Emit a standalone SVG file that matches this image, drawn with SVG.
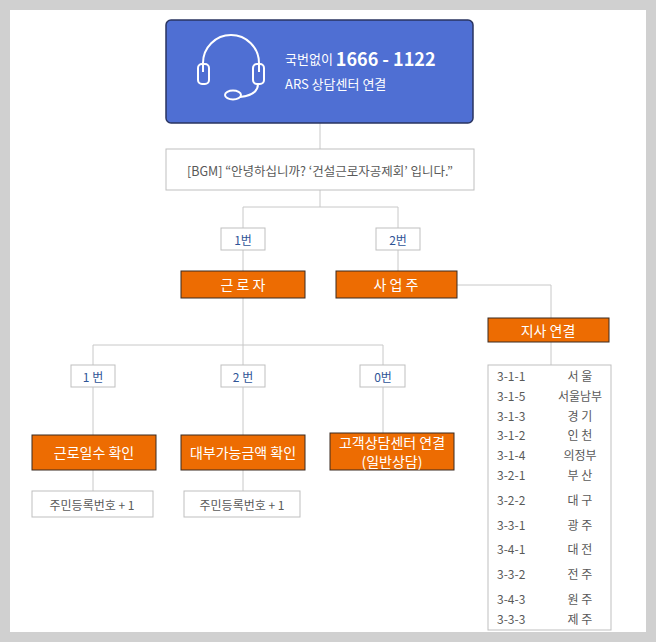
<svg xmlns="http://www.w3.org/2000/svg" width="656" height="642" viewBox="0 0 656 642">
<style>
text{font-family:"Noto Sans CJK KR","Noto Sans",sans-serif;}
.c{fill:none;stroke:#c8c8c8;stroke-width:1}
.w{fill:#fff;stroke:#bfbfbf;stroke-width:1}
.o{fill:#ed6c02;stroke:#3a2a20;stroke-width:1}
.ot{fill:#fff;font-size:14px;text-anchor:middle;dominant-baseline:central}
.bt{fill:#2f5597;font-size:12px;text-anchor:middle;dominant-baseline:central}
.gt{fill:#595959;font-size:12px;dominant-baseline:central}
</style>
<rect width="656" height="642" fill="#d0d0d0"/>
<rect x="10" y="10" width="636" height="622" fill="#fff"/>
<g id="connectors" class="c">
<path d="M320 123V149M320 190V207M243 207H398M243 207V228M398 207V228M243 250V271M398 250V271M457 285H551V318M551 342V365M243 298V345M93 345H383M93 345V365M243 345V365M383 345V365M93 387V435M243 387V435M383 387V433M93 470V491M243 470V491"/>
</g>
<g id="ars">
<rect x="166" y="20" width="307" height="103" rx="5" fill="#4f6fd3" stroke="#2a3560" stroke-width="1.5"/>
<g fill="none" stroke="#fff" stroke-width="2">
<path d="M203 72V63a28 28 0 0 1 56 0V72"/>
<rect x="198" y="64" width="11" height="20" rx="4"/>
<rect x="253" y="64" width="11" height="20" rx="4"/>
<path d="M258 84q0 11 -18 13"/>
<ellipse cx="233" cy="95" rx="8" ry="4.5"/>
</g>
<text x="285" y="58" fill="#fff" font-size="13" dominant-baseline="central">국번없이 <tspan font-size="18" font-weight="bold">1666 - 1122</tspan></text>
<text x="285" y="83" fill="#fff" font-size="13" dominant-baseline="central">ARS 상담센터 연결</text>
</g>
<g id="bgm"><rect class="w" x="166" y="149" width="308" height="41"/>
<text x="320" y="170" fill="#595959" font-size="12.5" text-anchor="middle" dominant-baseline="central">[BGM]  “안녕하십니까? ‘건설근로자공제회’ 입니다.”</text></g>
<g id="n1"><rect class="w" x="221" y="228" width="44" height="22" stroke="#8faadc"/><text class="bt" x="243" y="239">1번</text></g>
<g id="n2"><rect class="w" x="376" y="228" width="44" height="22" stroke="#8faadc"/><text class="bt" x="398" y="239">2번</text></g>
<g id="worker"><rect class="o" x="181" y="271" width="124" height="27"/><text class="ot" x="243" y="284">근 로 자</text></g>
<g id="employer"><rect class="o" x="336" y="271" width="121" height="27"/><text class="ot" x="396" y="284">사 업 주</text></g>
<g id="branch"><rect class="o" x="488" y="318" width="121" height="24"/><text class="ot" x="548" y="330">지사 연결</text></g>
<g id="m1"><rect class="w" x="71" y="365" width="44" height="22" stroke="#8faadc"/><text class="bt" x="93" y="376">1 번</text></g>
<g id="m2"><rect class="w" x="221" y="365" width="44" height="22" stroke="#8faadc"/><text class="bt" x="243" y="376">2 번</text></g>
<g id="m0"><rect class="w" x="360" y="365" width="45" height="22" stroke="#8faadc"/><text class="bt" x="383" y="376">0번</text></g>
<g id="days"><rect class="o" x="32" y="435" width="124" height="35"/><text class="ot" x="94" y="452">근로일수 확인</text></g>
<g id="loan"><rect class="o" x="181" y="435" width="124" height="35"/><text class="ot" x="243" y="452">대부가능금액 확인</text></g>
<g id="center"><rect class="o" x="330" y="433" width="124" height="37"/><text class="ot" x="392" y="442" font-size="12">고객상담센터 연결</text><text class="ot" x="392" y="461" font-size="12">(일반상담)</text></g>
<g id="id1"><rect class="w" x="32" y="491" width="121" height="26"/><text class="gt" x="92" y="504" text-anchor="middle">주민등록번호 + 1</text></g>
<g id="id2"><rect class="w" x="184" y="491" width="116" height="26"/><text class="gt" x="242" y="504" text-anchor="middle">주민등록번호 + 1</text></g>
<g id="list"><rect class="w" x="488" y="365" width="123" height="265"/>
<g class="gt">
<text x="497" y="375">3-1-1</text><text x="580" y="375" text-anchor="middle">서 울</text>
<text x="497" y="395">3-1-5</text><text x="580" y="395" text-anchor="middle">서울남부</text>
<text x="497" y="415">3-1-3</text><text x="580" y="415" text-anchor="middle">경 기</text>
<text x="497" y="434">3-1-2</text><text x="580" y="434" text-anchor="middle">인 천</text>
<text x="497" y="454">3-1-4</text><text x="580" y="454" text-anchor="middle">의정부</text>
<text x="497" y="474">3-2-1</text><text x="580" y="474" text-anchor="middle">부 산</text>
<text x="497" y="499">3-2-2</text><text x="580" y="499" text-anchor="middle">대 구</text>
<text x="497" y="524">3-3-1</text><text x="580" y="524" text-anchor="middle">광 주</text>
<text x="497" y="548">3-4-1</text><text x="580" y="548" text-anchor="middle">대 전</text>
<text x="497" y="573">3-3-2</text><text x="580" y="573" text-anchor="middle">전 주</text>
<text x="497" y="598">3-4-3</text><text x="580" y="598" text-anchor="middle">원 주</text>
<text x="497" y="618">3-3-3</text><text x="580" y="618" text-anchor="middle">제 주</text>
</g></g>
</svg>
